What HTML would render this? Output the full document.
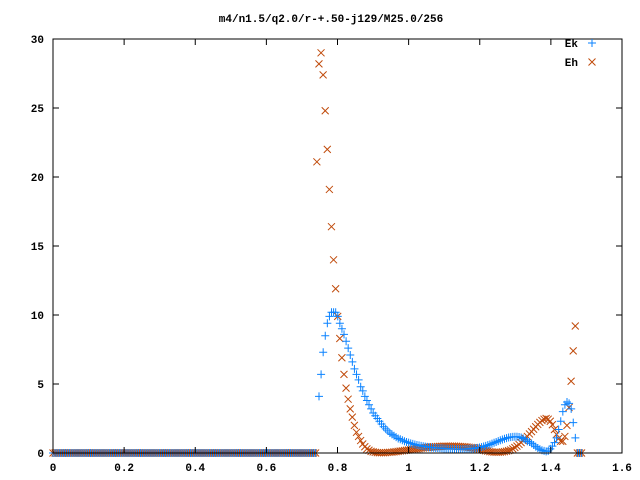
<!DOCTYPE html>
<html><head><meta charset="utf-8"><style>
html,body{margin:0;padding:0;background:#fff;}
svg{display:block;font-family:"Liberation Mono","DejaVu Sans Mono",monospace;font-weight:bold;font-size:11px;}
</style></head><body>
<svg id="chart" width="640" height="480" viewBox="0 0 640 480" xmlns="http://www.w3.org/2000/svg">
<rect x="0" y="0" width="640" height="480" fill="#fff"/>
<text x="331" y="22" text-anchor="middle">m4/n1.5/q2.0/r-+.50-j129/M25.0/256</text>
<g id="marks"></g>
<rect x="53" y="39" width="569" height="414" fill="none" stroke="#000" stroke-width="1"/>
<g id="axes"></g>
<g>
<text x="578" y="47" text-anchor="end">Ek</text>
<text x="578" y="66" text-anchor="end">Eh</text>
</g>
</svg>
<script>
const xTicks = [0, 0.2, 0.4, 0.6, 0.8, 1, 1.2, 1.4, 1.6];
const xTickLabels = ["0","0.2","0.4","0.6","0.8","1","1.2","1.4","1.6"];
const yTicks = [0, 5, 10, 15, 20, 25, 30];
const yTickLabels = ["0","5","10","15","20","25","30"];
const gridStep = 0.00586;
const baseStartX = 0;
const baseCount = 127;
const ekStartX = 0.748;
const ekValues = [4.1,5.7,7.3,8.5,9.4,9.9,10.2,10.2,10.2,9.9,
9.4,9.0,8.6,8.1,7.6,7.1,6.6,6.1,5.7,5.3,
4.8,4.5,4.1,3.8,3.5,3.2,2.9,2.7,2.5,2.3,
2.1,1.9,1.75,1.6,1.45,1.35,1.25,1.15,1.05,1.0,
0.92,0.85,0.8,0.75,0.7,0.66,0.62,0.58,0.55,0.52,
0.49,0.46,0.44,0.42,0.40,0.38,0.37,0.36,0.35,0.34,
0.33,0.32,0.31,0.30,0.30,0.29,0.29,0.28,0.28,0.28,
0.29,0.30,0.31,0.32,0.33,0.35,0.37,0.40,0.43,0.47,
0.52,0.57,0.62,0.68,0.74,0.80,0.86,0.92,0.98,1.03,
1.08,1.12,1.15,1.17,1.18,1.18,1.16,1.12,1.05,0.95,
0.85,0.8,0.7,0.58,0.46,0.36,0.27,0.2,0.15,0.12,
0.15,0.3,0.5,0.75,1.1,1.7,2.3,3.0,3.5,3.7,
3.6,3.2,2.2,1.1,0,0,0];
const ehStartX = 0.742;
const ehValues = [21.1,28.2,29.0,27.4,24.8,22.0,19.1,16.4,14.0,11.9,
9.9,8.3,6.9,5.7,4.7,3.9,3.2,2.6,2.0,1.5,
1.2,0.9,0.65,0.45,0.3,0.2,0.12,0.08,0.05,0.03,
0.02,0.02,0.02,0.03,0.04,0.05,0.06,0.08,0.1,0.12,
0.14,0.16,0.18,0.2,0.22,0.24,0.26,0.28,0.3,0.32,
0.34,0.36,0.38,0.4,0.42,0.44,0.45,0.46,0.47,0.48,
0.49,0.5,0.5,0.5,0.5,0.5,0.5,0.49,0.48,0.47,
0.46,0.45,0.44,0.42,0.4,0.38,0.35,0.32,0.28,0.24,
0.2,0.16,0.13,0.1,0.08,0.06,0.05,0.05,0.06,0.08,
0.1,0.13,0.17,0.22,0.3,0.4,0.5,0.62,0.75,0.9,
1.05,1.2,1.38,1.55,1.72,1.9,2.07,2.22,2.35,2.45,
2.5,2.45,2.3,2.05,1.7,1.35,1.05,0.85,0.85,1.2,
2.0,3.3,5.2,7.4,9.2,0,0,0];

const L = 53, R = 622, T = 39, B = 453;
const xMin = 0, xMax = 1.6, yMin = 0, yMax = 30;
function sx(v){ return L + (v - xMin) / (xMax - xMin) * (R - L); }
function sy(v){ return B - (v - yMin) / (yMax - yMin) * (B - T); }
const NS = "http://www.w3.org/2000/svg";
const marks = document.getElementById("marks");
const axes = document.getElementById("axes");
const EK = "#0a82ff", EH = "#c04a0a";

function plus(g, x, y, c){
  const p = document.createElementNS(NS, "path");
  p.setAttribute("d", `M${x-4},${y}H${x+4}M${x},${y-4}V${y+4}`);
  p.setAttribute("stroke", c); p.setAttribute("stroke-width", "1"); p.setAttribute("fill", "none");
  
  
  g.appendChild(p);
}
function cross(g, x, y, c){
  const p = document.createElementNS(NS, "path");
  p.setAttribute("d", `M${x-3.5},${y-3.5}L${x+3.5},${y+3.5}M${x-3.5},${y+3.5}L${x+3.5},${y-3.5}`);
  p.setAttribute("stroke", c); p.setAttribute("stroke-width", "1"); p.setAttribute("fill", "none");
  
  
  g.appendChild(p);
}

// axes ticks and labels
xTicks.forEach((v, i) => {
  const x = sx(v);
  const t = document.createElementNS(NS, "path");
  t.setAttribute("d", `M${x},${B}V${B-6}M${x},${T}V${T+6}`);
  t.setAttribute("stroke", "#000");
  
  
  axes.appendChild(t);
  const lb = document.createElementNS(NS, "text");
  lb.setAttribute("x", x); lb.setAttribute("y", B + 18); lb.setAttribute("text-anchor", "middle");
  lb.textContent = xTickLabels[i];
  
  
  axes.appendChild(lb);
});
yTicks.forEach((v, i) => {
  const y = sy(v);
  const t = document.createElementNS(NS, "path");
  t.setAttribute("d", `M${L},${y}H${L+6}M${R},${y}H${R-6}`);
  t.setAttribute("stroke", "#000");
  
  
  axes.appendChild(t);
  const lb = document.createElementNS(NS, "text");
  lb.setAttribute("x", L - 9); lb.setAttribute("y", y + 4); lb.setAttribute("text-anchor", "end");
  lb.textContent = yTickLabels[i];
  
  
  axes.appendChild(lb);
});

const gEk = document.createElementNS(NS, "g");


const gEh = document.createElementNS(NS, "g");


marks.appendChild(gEh); marks.appendChild(gEk);

for (let i = 0; i < baseCount; i++) {
  const xv = baseStartX + i * gridStep;
  cross(gEh, sx(xv), sy(0), EH);
  plus(gEk, sx(xv), sy(0), EK);
}
ehValues.forEach((v, i) => cross(gEh, sx(ehStartX + i * gridStep), sy(v), EH));
ekValues.forEach((v, i) => plus(gEk, sx(ekStartX + i * gridStep), sy(v), EK));

// legend symbols
plus(axes, 592, 43, EK);
cross(axes, 592, 62, EH);
</script>
</body></html>
